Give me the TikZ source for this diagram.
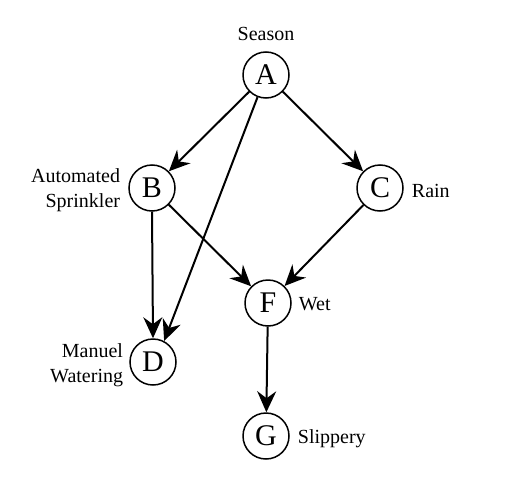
\documentclass[tikz,border=0pt]{standalone}
\usepackage{fontspec}
\setmainfont{Liberation Serif}
\usetikzlibrary{arrows.meta}
\begin{document}
\begin{tikzpicture}[x=1pt,y=-1pt,
  var/.style={circle,draw,line width=1.5pt,minimum size=46pt,inner sep=0pt,font=\fontsize{30}{30}\selectfont},
  lbl/.style={font=\fontsize{20}{25}\selectfont,inner sep=0pt},
  edge/.style={line width=2pt,-{Stealth[length=21pt,width=19pt,inset=7pt]}}]
\useasboundingbox (0,0) rectangle (526,500);
\node[var] (A) at (266,75) {A};
\node[var] (B) at (152,188) {B};
\node[var] (C) at (380,188) {C};
\node[var] (F) at (268,303) {F};
\node[var] (D) at (153,362) {D};
\node[var] (G) at (266,436) {G};
\node[lbl,anchor=south] (lA) at ([yshift=10pt]A.north) {Season};
\node[lbl,anchor=east,align=right] (lB) at ([xshift=-8pt,yshift=-2pt]B.west) {Automated\\Sprinkler};
\node[lbl,anchor=west] (lC) at ([xshift=8pt,yshift=-3pt]C.east) {Rain};
\node[lbl,anchor=west] (lF) at ([xshift=7pt,yshift=-1pt]F.east) {Wet};
\node[lbl,anchor=east,align=right] (lD) at ([xshift=-6pt,yshift=-3pt]D.west) {Manuel\\Watering};
\node[lbl,anchor=west] (lG) at ([xshift=8pt,yshift=-3pt]G.east) {Slippery};
\draw[edge] (A) -- (B);
\draw[edge] (A) -- (C);
\draw[edge] (A) -- (D.62);
\draw[edge] (B.south) -- (D.north);
\draw[edge] (B) -- (F);
\draw[edge] (C) -- (F);
\draw[edge] (F) -- (G);
\end{tikzpicture}
\end{document}
